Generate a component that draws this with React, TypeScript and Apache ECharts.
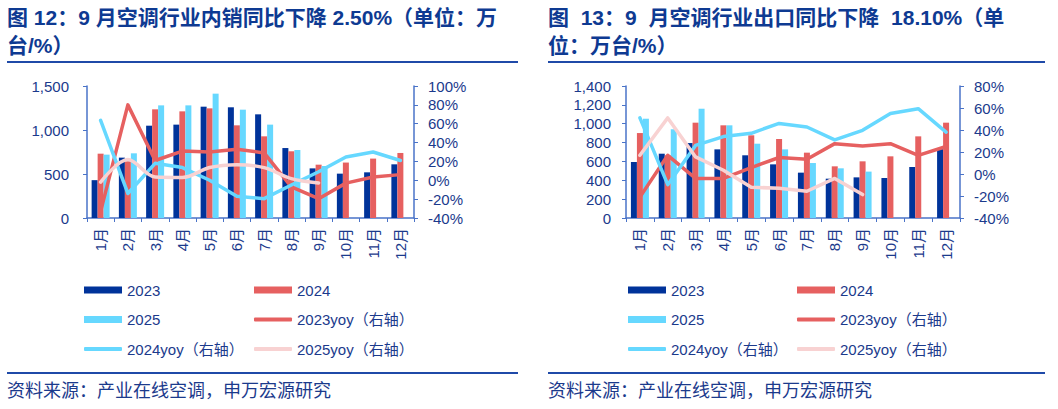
import React, { useEffect, useRef } from "react";
import * as echarts from "echarts";

const months = ["1月", "2月", "3月", "4月", "5月", "6月", "7月", "8月", "9月", "10月", "11月", "12月"];

// Chart 1: domestic sales (万台) and yoy (%)
const dom2023 = [430, 686, 1049, 1061, 1265, 1258, 1178, 795, 564, 504, 519, 610];
const dom2024 = [731, 645, 1235, 1212, 1246, 1053, 928, 758, 606, 630, 675, 739];
const dom2025 = [720, 735, 1280, 1280, 1413, 1231, 1061, 773, 591];
const domYoy2023 = [-33, 80, 21, 31, 30, 33, 29, -7, -19.5, -3, 3.5, 6];
const domYoy2024 = [63.5, -14, 18, 13.5, 0, -17, -19.5, -5, 9, 24.7, 30, 21];
const domYoy2025 = [-2, 22, 3.5, 3, 13.5, 16.6, 13.4, 1.8, -2.8];

// Chart 2: export (万台) and yoy (%)
const exp2023 = [594, 682, 795, 728, 665, 569, 481, 417, 431, 424, 541, 730];
const exp2024 = [901, 665, 1011, 983, 877, 838, 693, 548, 601, 654, 866, 1011];
const exp2025 = [1053, 941, 1159, 983, 788, 728, 583, 527, 492];
const expYoy2023 = [-21, 17, -4, -4, 5.8, 15, 13.4, 27.6, 25.5, 27.6, 17, 25];
const expYoy2024 = [51, -9.7, 26, 34, 37, 46, 42.7, 31, 39.7, 55, 59.4, 38];
const expYoy2025 = [17, 51, 15.5, 3.4, -12, -13, -15.7, -4, -18.7];

const legendNames = ["2023", "2024", "2025", "2023yoy（右轴）", "2024yoy（右轴）", "2025yoy（右轴）"];

const C_NAVY = "#00339a";
const C_RED = "#e66060";
const C_SKY = "#66d8ff";
const C_PINK = "#f8d2d2";
const C_TEXT = "#1b3a8c";
const C_TITLE = "#0e3a92";
const C_AXIS = "#4a73c8";
const C_RULE = "#1f4aa8";
const FONT = "Liberation Sans, Arial, Noto Sans CJK SC, sans-serif";

export default function App() {
  const ref = useRef<HTMLDivElement>(null);

  useEffect(() => {
    if (!ref.current) return;
    const chart = echarts.init(ref.current, undefined, { renderer: "svg" });

    const grids = [
      { left: 87, width: 327, top: 86, height: 132 },
      { left: 626, width: 334, top: 86, height: 132 },
    ];

    const xAxes = grids.map((_, i) => ({
      type: "category",
      gridIndex: i,
      data: months,
      boundaryGap: true,
      axisLine: { show: true, lineStyle: { color: C_AXIS, width: 1.5 } },
      axisTick: { show: true, length: 4, lineStyle: { color: C_AXIS } },
      axisLabel: { rotate: 90, margin: 10, color: C_TEXT, fontSize: 15, fontFamily: FONT },
    }));

    const leftMax = [1500, 1400];
    const leftInt = [500, 200];
    const rightMax = [100, 80];
    const leftMargin = [18, 15];
    const yAxes: any[] = [];
    grids.forEach((_, i) => {
      yAxes.push({
        type: "value",
        gridIndex: i,
        position: "left",
        min: 0,
        max: leftMax[i],
        interval: leftInt[i],
        splitLine: { show: false },
        axisLine: { show: true, lineStyle: { color: C_AXIS, width: 1.5 } },
        axisTick: { show: true, length: 4, lineStyle: { color: C_AXIS } },
        axisLabel: {
          margin: leftMargin[i],
          color: C_TEXT,
          fontSize: 15,
          fontFamily: FONT,
          formatter: (v: number) => v.toLocaleString("en-US"),
        },
      });
      yAxes.push({
        type: "value",
        gridIndex: i,
        position: "right",
        min: -40,
        max: rightMax[i],
        interval: 20,
        splitLine: { show: false },
        axisLine: { show: true, lineStyle: { color: C_AXIS, width: 1.5 } },
        axisTick: { show: true, length: 4, lineStyle: { color: C_AXIS } },
        axisLabel: {
          margin: 14,
          color: C_TEXT,
          fontSize: 15,
          fontFamily: FONT,
          formatter: (v: number) => v + "%",
        },
      });
    });

    const datasets = [
      { bars: [dom2023, dom2024, dom2025], lines: [domYoy2023, domYoy2024, domYoy2025], smooth: [false, false, 0.35] },
      { bars: [exp2023, exp2024, exp2025], lines: [expYoy2023, expYoy2024, expYoy2025], smooth: [false, false, false] },
    ];
    const barColors = [C_NAVY, C_RED, C_SKY];
    const lineColors = [C_RED, C_SKY, C_PINK];

    const series: any[] = [];
    datasets.forEach((d, i) => {
      d.bars.forEach((vals, k) => {
        series.push({
          name: `c${i}|${legendNames[k]}`,
          type: "bar",
          xAxisIndex: i,
          yAxisIndex: i * 2,
          data: vals,
          barWidth: 6,
          barGap: "0%",
          itemStyle: { color: barColors[k] },
        });
      });
      d.lines.forEach((vals, k) => {
        series.push({
          name: `c${i}|${legendNames[k + 3]}`,
          type: "line",
          xAxisIndex: i,
          yAxisIndex: i * 2 + 1,
          data: vals,
          symbol: "none",
          showSymbol: false,
          smooth: d.smooth[k],
          lineStyle: { color: lineColors[k], width: 3.5, cap: "round", join: "round" },
          itemStyle: { color: lineColors[k] },
        });
      });
    });

    const colX = [
      [84, 254],
      [628, 797],
    ];
    const rowY = [290, 319.5, 349];
    const legends: any[] = [];
    for (let i = 0; i < 2; i++) {
      legendNames.forEach((nm, k) => {
        const isBar = k < 3;
        const col = k % 2;
        const row = Math.floor(k / 2);
        legends.push({
          data: [`c${i}|${nm}`],
          left: colX[i][col],
          top: rowY[row] - 10,
          padding: 0,
          itemGap: 0,
          itemWidth: 38,
          itemHeight: isBar ? 7 : 4,
          icon: isBar ? "rect" : "roundRect",
          selectedMode: false,
          formatter: (n: string) => n.split("|")[1],
          textStyle: { color: C_TEXT, fontSize: 15, lineHeight: 20, fontFamily: FONT, padding: [0, 0, 0, 0] },
        });
      });
    }

    const titleStyle = {
      color: C_TITLE,
      fontSize: 21,
      fontWeight: "bold",
      lineHeight: 28,
      fontFamily: FONT,
    };

    chart.setOption({
      animation: false,
      backgroundColor: "#ffffff",
      title: [
        {
          text: "图 12：9 月空调行业内销同比下降 2.50%（单位：万\n台/%）",
          left: 7,
          top: 3,
          padding: 0,
          textStyle: titleStyle,
        },
        {
          text: "图  13：9  月空调行业出口同比下降  18.10%（单\n位：万台/%）",
          left: 548,
          top: 3,
          padding: 0,
          textStyle: titleStyle,
        },
      ],
      grid: grids,
      xAxis: xAxes,
      yAxis: yAxes,
      legend: legends,
      series,
      graphic: [
        { type: "line", shape: { x1: 7, y1: 62, x2: 518, y2: 62 }, style: { stroke: C_RULE, lineWidth: 2 } },
        { type: "line", shape: { x1: 548, y1: 62, x2: 1045, y2: 62 }, style: { stroke: C_RULE, lineWidth: 2 } },
        { type: "line", shape: { x1: 7, y1: 373, x2: 518, y2: 373 }, style: { stroke: C_RULE, lineWidth: 2 } },
        { type: "line", shape: { x1: 548, y1: 373, x2: 1045, y2: 373 }, style: { stroke: C_RULE, lineWidth: 2 } },
        {
          type: "text",
          left: 7,
          top: 382,
          style: { text: "资料来源：产业在线空调，申万宏源研究", fill: C_TEXT, fontSize: 18, fontFamily: FONT },
        },
        {
          type: "text",
          left: 548,
          top: 382,
          style: { text: "资料来源：产业在线空调，申万宏源研究", fill: C_TEXT, fontSize: 18, fontFamily: FONT },
        },
      ],
    });

    return () => chart.dispose();
  }, []);

  return (
    <div
      ref={ref}
      style={{ position: "fixed", left: 0, top: 0, width: 1058, height: 409, background: "#fff" }}
    />
  );
}
